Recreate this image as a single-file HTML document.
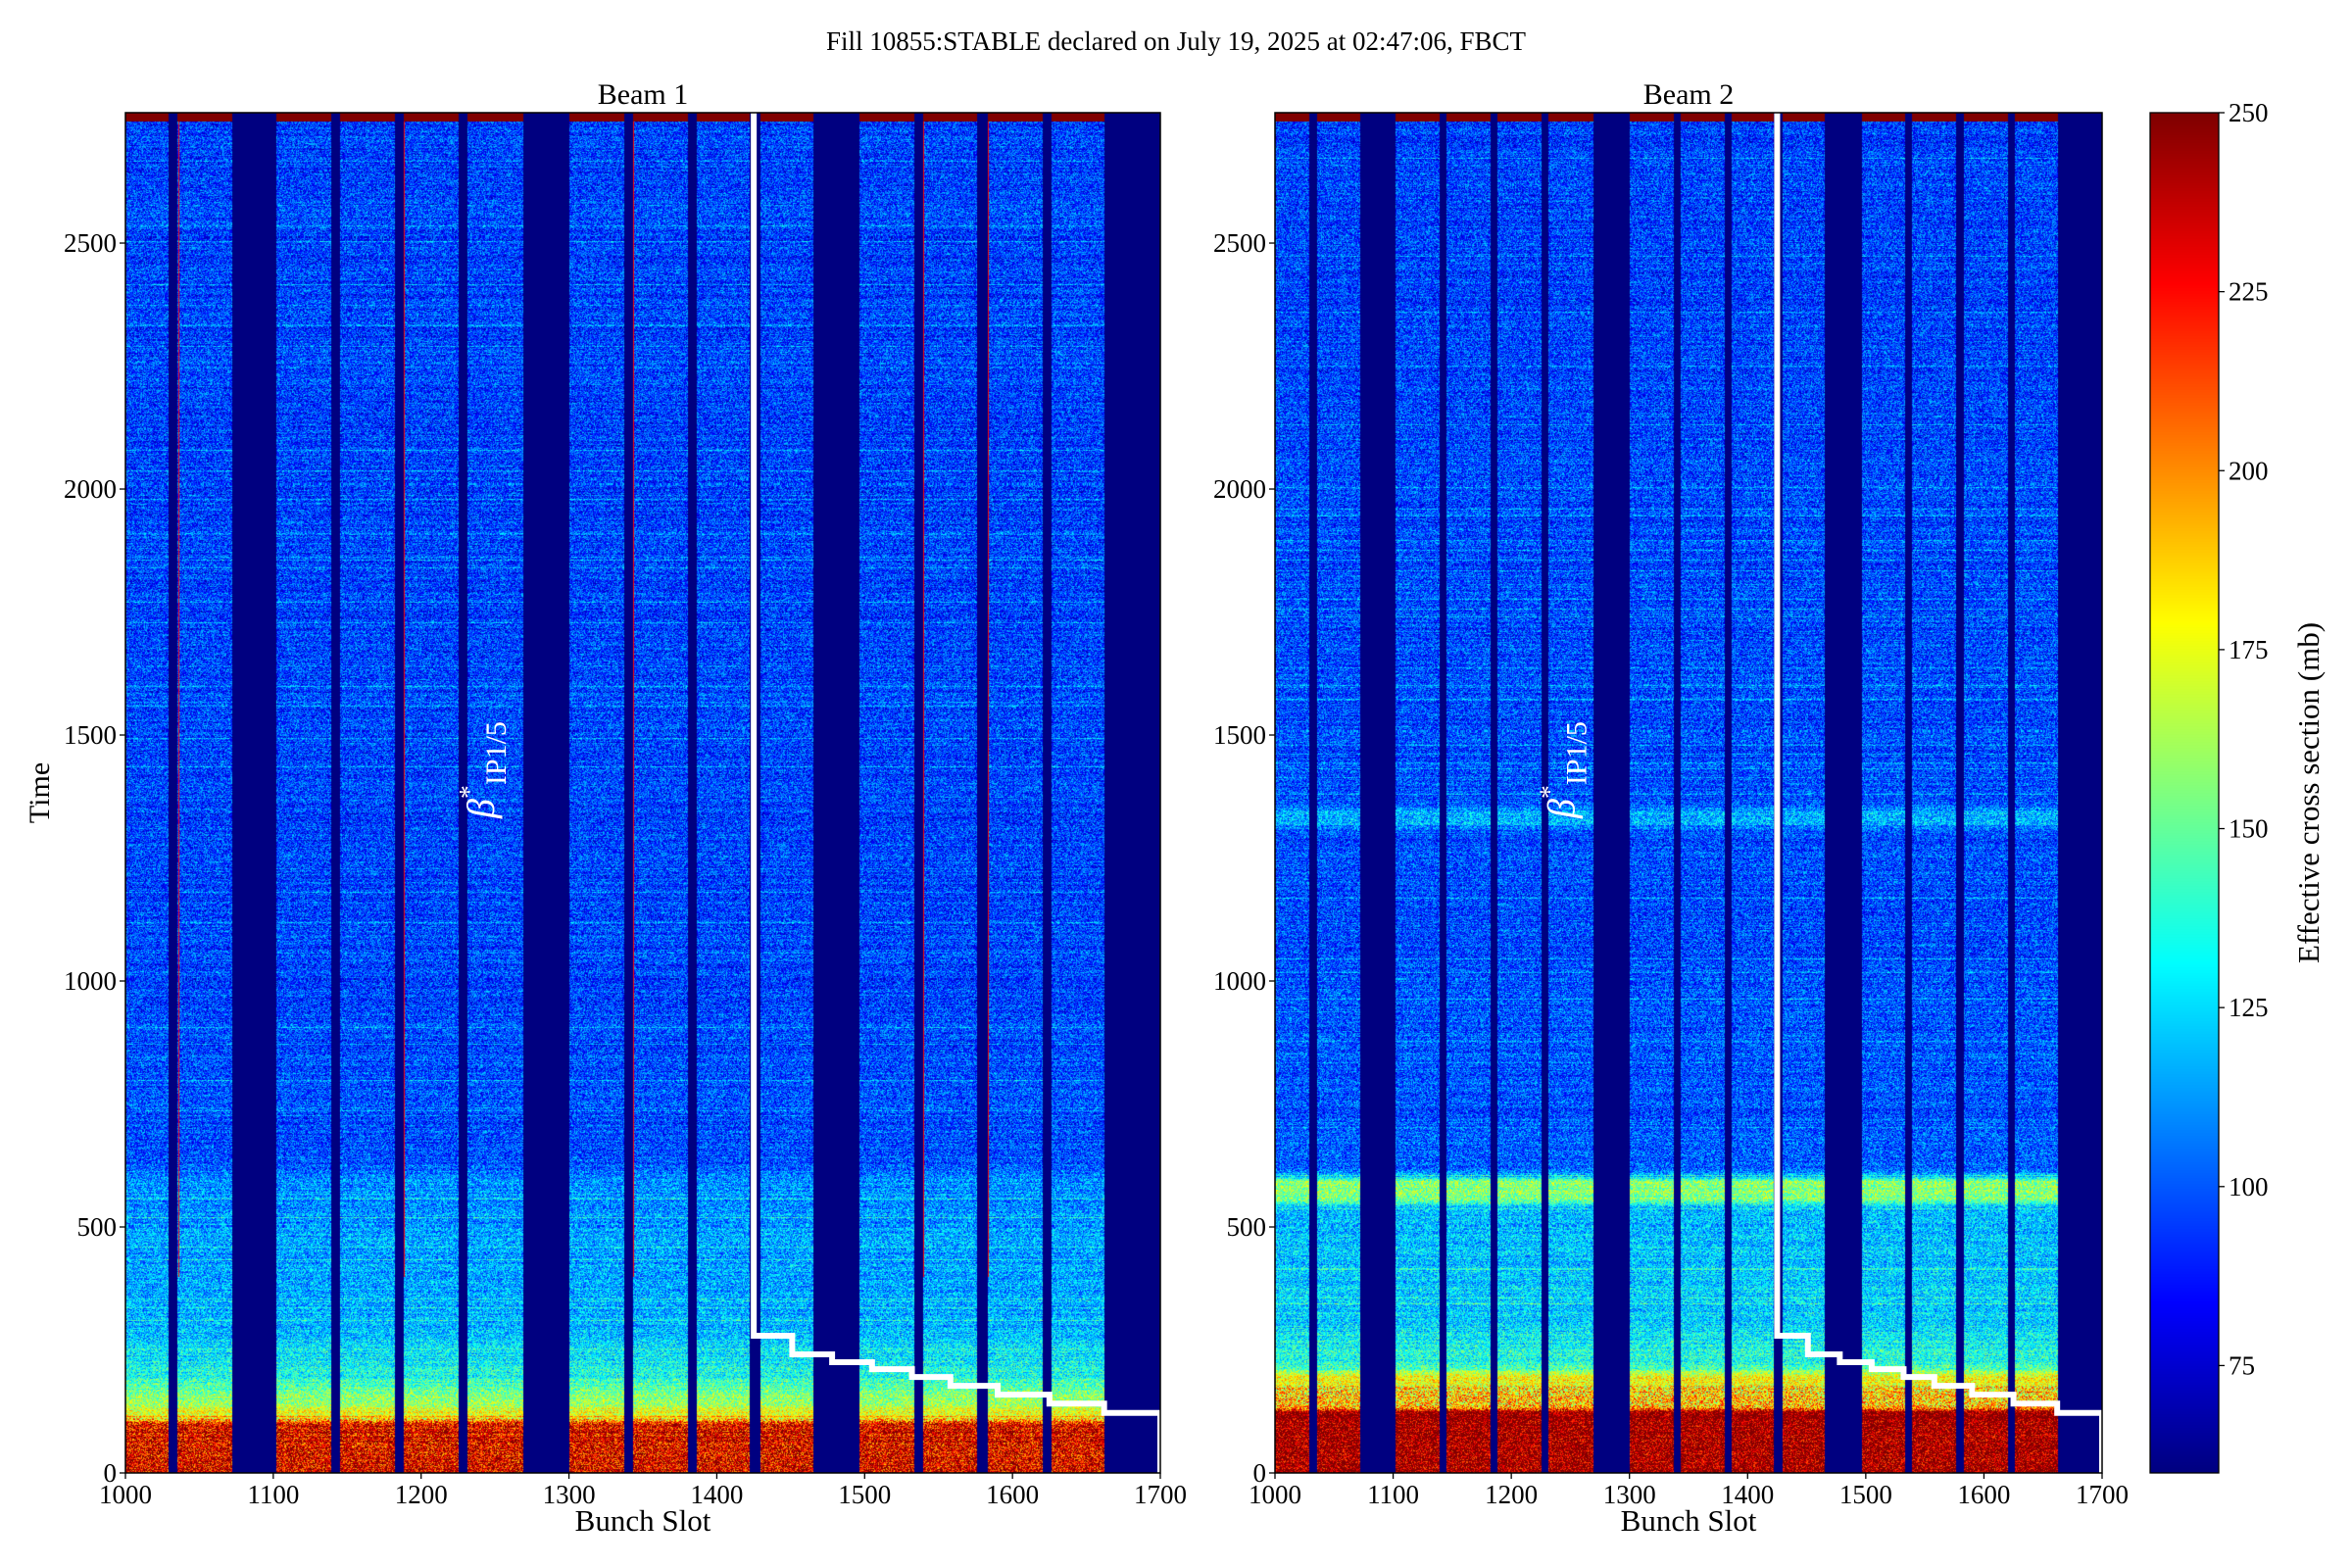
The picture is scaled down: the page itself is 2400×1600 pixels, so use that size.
<!DOCTYPE html>
<html><head><meta charset="utf-8"><style>
html,body{margin:0;padding:0;background:#fff;width:2400px;height:1600px;overflow:hidden}
#wrap{position:relative;width:2400px;height:1600px}
canvas{position:absolute}
svg{position:absolute;left:0;top:0}
text{font-family:"Liberation Serif",serif;fill:#000}
</style></head><body>
<div id="wrap">
<canvas id="c1" width="1056" height="1388" style="left:128px;top:115px"></canvas>
<canvas id="c2" width="844" height="1388" style="left:1301px;top:115px"></canvas>
<canvas id="cb" width="70" height="1388" style="left:2194px;top:115px"></canvas>
<svg id="ov" width="2400" height="1600"></svg>
</div>
<script>
// ---- data ----
const trainStarts=[1000,1035,1102,1145,1188,1231,1300,1343,1386,1429,1496,1539,1583,1626];
const trainEnds  =[1028,1071,1138,1181,1224,1268,1336,1379,1421,1464,1532,1575,1619,1661];
const profB1T=[0,100,112,160,200,300,600,625,1000,2000,2765];
const profB1V=[232,228,180,155,135,118,110,98,96,95,95];
const profB2T=[0,125,135,200,215,300,540,555,595,605,620,1300,1325,1345,1360,2765];
const profB2V=[250,250,190,175,140,125,118,155,155,118,100,97,118,118,97,95];
const hotSlotsB1=[1035,1188,1231,1343,1386,1539,1583,1626];
const stepSlots=[1425,1451,1478,1505,1532,1558,1590,1625,1662,1700];
const stepTimes=[279,241,225,211,195,177,159,141,122];
const xTicks=[1000,1100,1200,1300,1400,1500,1600,1700];
const yTicks=[0,500,1000,1500,2000,2500];
const cbTicks=[75,100,125,150,175,200,225,250];
const X0=1000,X1=1700,T1=2765,VMIN=60,VMAX=250;

function jet(v){let t=(v-VMIN)/(VMAX-VMIN);t=Math.max(0,Math.min(1,t));
 const f=x=>Math.max(0,Math.min(1,x));
 return [f(1.5-Math.abs(4*t-3))*255,f(1.5-Math.abs(4*t-2))*255,f(1.5-Math.abs(4*t-1))*255];}
function interp(ts,vs,t){for(let i=1;i<ts.length;i++){if(t<=ts[i]){const a=(t-ts[i-1])/(ts[i]-ts[i-1]);return vs[i-1]+a*(vs[i]-vs[i-1]);}}return vs[vs.length-1];}
function hash(a,b,s){let h=(a*374761393+b*668265263+s*2147483647)|0;h=(h^(h>>>13))*1274126177|0;h=h^(h>>>16);return ((h>>>0)%10000)/10000;}
function trainOf(s){for(let i=0;i<trainStarts.length;i++)if(s>=trainStarts[i]&&s<=trainEnds[i])return i;return -1;}

function drawHeat(id,pt,pv,seed,hot){
 const c=document.getElementById(id),ctx=c.getContext('2d'),W=c.width,H=c.height;
 const img=ctx.createImageData(W,H),d=img.data;
 for(let py=0;py<H;py++){
  const t=(H-py)/H*T1,row=Math.floor(t/2);
  const base=interp(pt,pv,t);
  const rn=(hash(row,7,seed)-0.5)*12+(hash(row,3,seed)>0.96?15:0);
  for(let px=0;px<W;px++){
   const s=Math.floor(X0+px/W*(X1-X0));let v;
   if(trainOf(s)<0){v=VMIN;}
   else if(t>2748){v=250;}
   else{
    const amp=base>180?80:48;
    v=base+rn+(hash(s*3+px%2,row,seed)-0.5)*amp;
    if(hot&&hot.indexOf(s)>=0&&t>400&&px%2===0)v=225;
   }
   const col=jet(v),k=(py*W+px)*4;d[k]=col[0];d[k+1]=col[1];d[k+2]=col[2];d[k+3]=255;
  }
 }
 ctx.putImageData(img,0,0);
}
drawHeat('c1',profB1T,profB1V,11,hotSlotsB1);
drawHeat('c2',profB2T,profB2V,23,null);
(function(){const c=document.getElementById('cb'),ctx=c.getContext('2d');
 for(let y=0;y<c.height;y++){const v=VMAX-(y/c.height)*(VMAX-VMIN);const k=jet(v);ctx.fillStyle=`rgb(${k[0]|0},${k[1]|0},${k[2]|0})`;ctx.fillRect(0,y,70,1);}})();

const NS='http://www.w3.org/2000/svg',svg=document.getElementById('ov');
function el(tag,attrs,txt){const e=document.createElementNS(NS,tag);for(const k in attrs)e.setAttribute(k,attrs[k]);if(txt!==undefined)e.textContent=txt;svg.appendChild(e);return e;}
function axes(L,R,name){
 const T=115,B=1503,xs=s=>L+(s-X0)/(X1-X0)*(R-L),ys=t=>B-t/T1*(B-T);
 let d=`M${xs(stepSlots[0])},${T} L${xs(stepSlots[0])},${ys(stepTimes[0])}`;
 for(let i=0;i<stepTimes.length;i++){d+=` L${xs(stepSlots[i])},${ys(stepTimes[i])} L${xs(stepSlots[i+1])},${ys(stepTimes[i])}`;}
 d+=` L${xs(stepSlots[stepSlots.length-1])},${B}`;
 const p=el('path',{d:d,fill:'none',stroke:'#fff','stroke-width':6});
 
 
 const fr=el('rect',{x:L,y:T,width:R-L,height:B-T,fill:'none',stroke:'#000','stroke-width':1.5});
 
 
 for(const v of xTicks){const x=xs(v);el('line',{x1:x,x2:x,y1:B,y2:B+6,stroke:'#000','stroke-width':1.3});
  const t=el('text',{x:x,y:B+31,'font-size':27,'text-anchor':'middle'},String(v));
  
  }
 for(const v of yTicks){const y=ys(v);el('line',{x1:L-6,x2:L,y1:y,y2:y,stroke:'#000','stroke-width':1.3});
  const t=el('text',{x:L-9,y:y+9,'font-size':27,'text-anchor':'end'},String(v));
  
  }
 const xl=el('text',{x:(L+R)/2,y:1562,'font-size':31,'text-anchor':'middle'},'Bunch Slot');
 
 
 const tt=el('text',{x:(L+R)/2,y:106,'font-size':30,'text-anchor':'middle'},name==='beam1'?'Beam 1':'Beam 2');
 
 
 const ax=xs(1232)+6;
 const g=el('text',{transform:`translate(${ax+20},835) rotate(-90)`,'font-size':40,fill:'#fff'});
 
 
 g.innerHTML='<tspan font-style="italic" fill="#fff">β</tspan><tspan dy="-16" font-size="28" fill="#fff">*</tspan><tspan dy="28" font-size="30" fill="#fff">IP1/5</tspan>';
}
axes(128,1184,'beam1');
axes(1301,2145,'beam2');
const st=el('text',{x:1200,y:51,'font-size':27,'text-anchor':'middle'},'Fill 10855:STABLE declared on July 19, 2025 at 02:47:06, FBCT');


const yl=el('text',{transform:'translate(50,809) rotate(-90)','font-size':30,'text-anchor':'middle'},'Time');


const cbf=el('rect',{x:2194,y:115,width:70,height:1388,fill:'none',stroke:'#000','stroke-width':1.3});


for(const v of cbTicks){const y=115+(VMAX-v)/(VMAX-VMIN)*1388;el('line',{x1:2264,x2:2270,y1:y,y2:y,stroke:'#000','stroke-width':1.3});
 const t=el('text',{x:2274,y:y+9,'font-size':27},String(v));
 
 }
const cl=el('text',{transform:'translate(2366,809) rotate(-90)','font-size':31,'text-anchor':'middle'},'Effective cross section (mb)');


</script>
</body></html>
